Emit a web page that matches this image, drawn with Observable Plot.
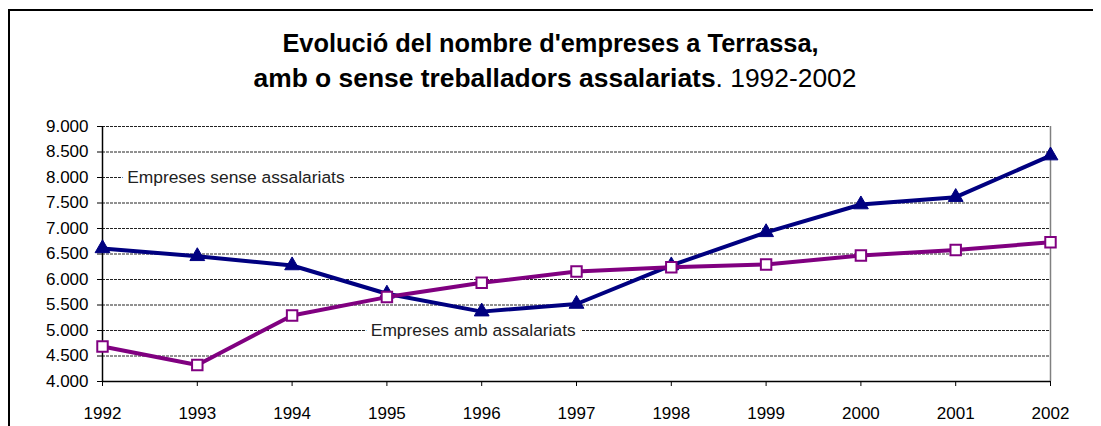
<!DOCTYPE html>
<html><head><meta charset="utf-8">
<script src="https://cdn.jsdelivr.net/npm/d3@7"></script>
<script src="https://cdn.jsdelivr.net/npm/@observablehq/plot@0.6"></script>
<style>
html,body{margin:0;padding:0;background:#fff;overflow:hidden;width:1101px;height:426px;}
body{font-family:"Liberation Sans",Arial,sans-serif;position:relative;}
#frame{position:absolute;left:8px;top:9px;width:1083px;height:500px;border-left:2px solid #000;border-top:2px solid #000;z-index:5;pointer-events:none;}
#title{position:absolute;left:0;top:26px;width:1101px;text-align:center;color:#000;}
#title div{height:35px;line-height:35px;white-space:nowrap;}
#t1{font-size:25.4px;}
#t2{font-size:26.4px;padding-left:9px;}
#chart{position:absolute;left:0;top:100px;}
</style></head>
<body>
<div id="title"><div id="t1"><b>Evolució del nombre d'empreses a Terrassa,</b></div><div id="t2"><b>amb o sense treballadors assalariats</b>. 1992-2002</div></div>
<div id="chart"></div>
<div id="frame"></div>
<script>
const years = [1992,1993,1994,1995,1996,1997,1998,1999,2000,2001,2002];
const senseValues = [6610,6455,6275,5720,5370,5520,6275,6925,7470,7615,8430];
const ambValues = [4685,4325,5295,5655,5935,6155,6240,6295,6470,6580,6730];
const yTicks = [4000,4500,5000,5500,6000,6500,7000,7500,8000,8500,9000];
const labelTexts = ["Empreses sense assalariats","Empreses amb assalariats"];
const labelYears = [1992.26,1994.83];
const labelValues = [8000,5000];

const sense = years.map((y,i)=>({year:y, value:senseValues[i]}));
const amb = years.map((y,i)=>({year:y, value:ambValues[i]}));
const labels = labelTexts.map((t,i)=>({text:t, year:labelYears[i], value:labelValues[i]}));
const fmt = d3.formatLocale({decimal:",", thousands:".", grouping:[3], currency:["","€"]}).format(",");

const chart = Plot.plot({
  width:1101, height:326,
  marginTop:26, marginBottom:45, marginLeft:102, marginRight:51,
  style:{fontFamily:"'Liberation Sans', Arial, sans-serif", fontSize:"17px", background:"transparent", color:"#000"},
  x:{type:"linear", domain:[1992,2002], axis:null},
  y:{domain:[4000,9000], axis:null},
  marks:[
    Plot.gridY(yTicks.filter(v=>v>4000), {stroke:"#222", strokeOpacity:1, strokeWidth:1, strokeDasharray:"3,1"}),
    Plot.ruleX([2002], {stroke:"#808080", strokeWidth:1.5}),
    Plot.text(labels, {x:"year", y:"value", text:"text", textAnchor:"start", fontSize:17.4, fill:"#222", stroke:"white", strokeWidth:12, paintOrder:"stroke"}),
    Plot.ruleX([1992], {stroke:"#000", strokeWidth:1.5}),
    Plot.ruleY([4000], {stroke:"#000", strokeWidth:1.5}),
    Plot.axisY(yTicks, {tickSize:5, tickPadding:9, tickFormat:fmt, label:null, stroke:"#000", fill:"#000"}),
    Plot.axisX(years, {tickSize:5, tickPadding:20, tickFormat:d=>String(d), label:null, stroke:"#000", fill:"#000"}),
    Plot.line(sense, {x:"year", y:"value", stroke:"#000080", strokeWidth:4}),
    Plot.dot(sense, {x:"year", y:"value", symbol:"triangle", r:5.5, fill:"#000080", stroke:"#000080", strokeWidth:1}),
    Plot.line(amb, {x:"year", y:"value", stroke:"#800080", strokeWidth:4}),
    Plot.dot(amb, {x:"year", y:"value", symbol:"square", r:5.9, fill:"white", stroke:"#800080", strokeWidth:2})
  ]
});
document.getElementById("chart").appendChild(chart);
</script>
</body></html>
